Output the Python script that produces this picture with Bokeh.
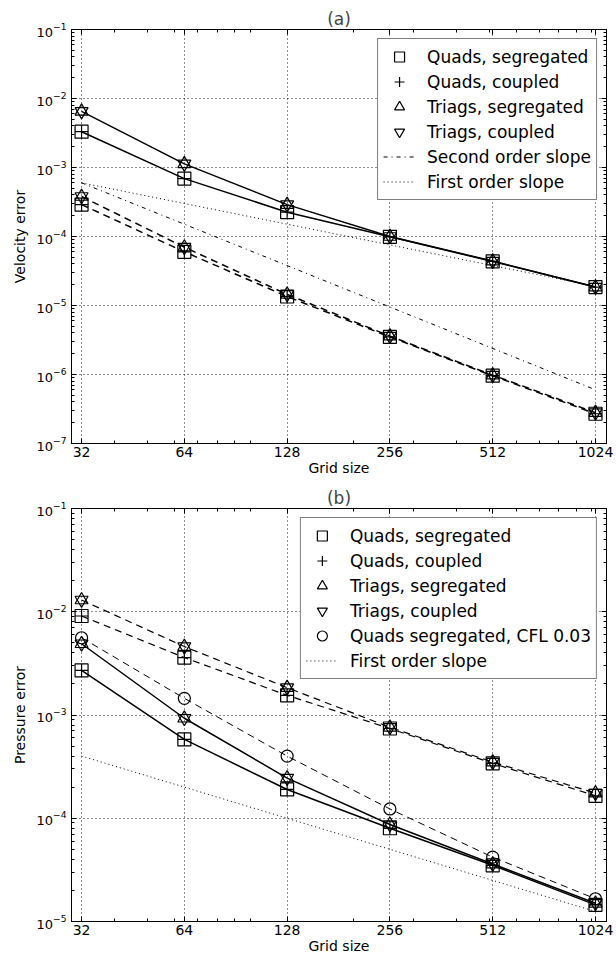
from bokeh.plotting import figure
from bokeh.layouts import column
from bokeh.models import (FixedTicker, LogAxis, LogTickFormatter, PrintfTickFormatter,
                          CustomJSTickFormatter, Legend, LegendItem, Range1d)
from bokeh.embed import file_html
from bokeh.resources import INLINE

# ---------------- data ----------------
grid_sizes = [32, 64, 128, 256, 512, 1024]
x_minor = [40, 50, 60, 70, 80, 90, 100, 200, 300, 400, 500, 600, 700, 800, 900, 1000]

# (a) velocity error
vel_quads_upper = [3.3e-3, 6.9e-4, 2.25e-4, 9.9e-5, 4.35e-5, 1.85e-5]
vel_triags_upper = [6.5e-3, 1.13e-3, 2.9e-4, 1.0e-4, 4.4e-5, 1.85e-5]
vel_quads_lower = [2.9e-4, 6.0e-5, 1.35e-5, 3.5e-6, 9.6e-7, 2.7e-7]
vel_triags_lower = [3.8e-4, 7.0e-5, 1.45e-5, 3.6e-6, 9.8e-7, 2.8e-7]
slope_x = [32, 1024]
vel_second_order = [6.0e-4, 6.0e-7]
vel_first_order = [6.0e-4, 1.9e-5]

# (b) pressure error
pre_triags_upper = [1.3e-2, 4.6e-3, 1.84e-3, 7.6e-4, 3.5e-4, 1.75e-4]
pre_quads_upper = [9.1e-3, 3.6e-3, 1.55e-3, 7.4e-4, 3.4e-4, 1.65e-4]
pre_triags_lower = [4.9e-3, 9.3e-4, 2.45e-4, 8.7e-5, 3.6e-5, 1.5e-5]
pre_quads_lower = [2.7e-3, 5.8e-4, 1.9e-4, 8.0e-5, 3.5e-5, 1.45e-5]
pre_quads_cfl = [5.6e-3, 1.45e-3, 4.0e-4, 1.23e-4, 4.2e-5, 1.66e-5]
pre_first_order = [4.0e-4, 1.25e-5]

FONT = "DejaVu Sans"


def decades(lo, hi):
    return [10.0 ** e for e in range(lo, hi + 1)]


def minors(lo, hi):
    return [k * 10.0 ** e for e in range(lo, hi) for k in range(2, 10)]


def make_fig(title, ylabel, ylo, yhi, height, left, top_border):
    p = figure(width=616, height=height, x_axis_type="log", y_axis_type="log",
               x_range=Range1d(29.9, 1103), y_range=Range1d(10.0 ** ylo, 10.0 ** yhi),
               output_backend="svg", toolbar_location=None,
               min_border_left=left, min_border_right=10, min_border_top=top_border,
               min_border_bottom=30)
    p.title.text = title
    p.title.align = "center"
    p.title.text_font = FONT
    p.title.text_font_size = "17px"
    p.title.text_font_style = "normal"
    p.title.standoff = 2
    xt = FixedTicker(ticks=grid_sizes, minor_ticks=x_minor)
    yt = FixedTicker(ticks=decades(ylo, yhi), minor_ticks=minors(ylo, yhi))
    p.xaxis.ticker = xt
    p.xaxis.formatter = PrintfTickFormatter(format="%d")
    p.yaxis.ticker = yt
    p.yaxis.formatter = LogTickFormatter()
    p.xaxis.axis_label = "Grid size"
    p.yaxis.axis_label = ylabel
    for ax in (p.xaxis, p.yaxis):
        ax.axis_label_text_font = FONT
        ax.axis_label_text_font_size = "14px"
        ax.axis_label_text_font_style = "normal"
        ax.major_label_text_font = FONT
        ax.major_tick_in = 5
        ax.major_tick_out = 0
        ax.minor_tick_in = 3
        ax.minor_tick_out = 0
        ax.axis_line_color = "black"
        ax.major_tick_line_color = "black"
        ax.minor_tick_line_color = "black"
        ax.major_label_text_color = "black"
        ax.axis_label_text_color = "black"
    p.xaxis.axis_label_standoff = 0
    p.xaxis.major_label_standoff = 3
    p.yaxis.axis_label_standoff = 6
    p.yaxis.major_label_standoff = 5
    p.xaxis.major_label_text_font_size = "14px"
    p.yaxis.major_label_text_font_size = "13px"
    # top & right tick-only axes
    blank = CustomJSTickFormatter(code="return ''")
    top = LogAxis(ticker=xt, formatter=blank, major_tick_in=5, major_tick_out=0,
                  minor_tick_in=3, minor_tick_out=0, major_label_standoff=0)
    right = LogAxis(ticker=yt, formatter=blank, major_tick_in=5, major_tick_out=0,
                    minor_tick_in=3, minor_tick_out=0, major_label_standoff=0)
    p.add_layout(top, "above")
    p.add_layout(right, "right")
    p.grid.grid_line_color = "black"
    p.grid.grid_line_dash = "1 3"
    p.grid.grid_line_alpha = 0.9
    p.outline_line_color = "black"
    p.outline_line_alpha = 1
    return p


def markers(p, y, kinds):
    rs = []
    for k in kinds:
        rs.append(p.scatter(grid_sizes, y, marker=k, size=13 if k != "circle" else 12,
                            fill_color=None, line_color="black", line_width=1.2))
    return rs


def style_legend(p, items):
    leg = Legend(items=items, location="top_right")
    leg.label_text_font = FONT
    leg.label_text_font_size = "17px"
    leg.label_text_color = "black"
    leg.border_line_color = "black"
    leg.border_line_width = 1
    leg.background_fill_color = "white"
    leg.background_fill_alpha = 1
    leg.glyph_width = 32
    leg.glyph_height = 25
    leg.label_height = 25
    leg.spacing = 0
    leg.padding = 5
    leg.margin = 9
    leg.label_standoff = 12
    p.add_layout(leg)


# ---------------- (a) ----------------
p1 = make_fig("(a)", "Velocity error", -7, -1, 478, 71, 29)
p1.line(grid_sizes, vel_quads_upper, line_color="black", line_width=1.5)
p1.line(grid_sizes, vel_triags_upper, line_color="black", line_width=1.5)
p1.line(grid_sizes, vel_quads_lower, line_color="black", line_width=1.5, line_dash="7 5")
p1.line(grid_sizes, vel_triags_lower, line_color="black", line_width=1.5, line_dash="7 5")
r_so = p1.line(slope_x, vel_second_order, line_color="black", line_width=1, line_dash="4 4 1 4")
r_fo = p1.line(slope_x, vel_first_order, line_color="black", line_width=1, line_dash="1 3")
qs = markers(p1, vel_quads_upper, ["square", "cross"])
markers(p1, vel_quads_lower, ["square", "cross"])
ts = markers(p1, vel_triags_upper, ["triangle", "inverted_triangle"])
markers(p1, vel_triags_lower, ["triangle", "inverted_triangle"])
style_legend(p1, [
    LegendItem(label="Quads, segregated", renderers=[qs[0]]),
    LegendItem(label="Quads, coupled", renderers=[qs[1]]),
    LegendItem(label="Triags, segregated", renderers=[ts[0]]),
    LegendItem(label="Triags, coupled", renderers=[ts[1]]),
    LegendItem(label="Second order slope", renderers=[r_so]),
    LegendItem(label="First order slope", renderers=[r_fo]),
])

# ---------------- (b) ----------------
p2 = make_fig("(b)", "Pressure error", -5, -1, 478, 68, 30)
p2.line(grid_sizes, pre_triags_upper, line_color="black", line_width=1.2, line_dash="7 5")
p2.line(grid_sizes, pre_quads_upper, line_color="black", line_width=1.2, line_dash="7 5")
p2.line(grid_sizes, pre_triags_lower, line_color="black", line_width=1.5)
p2.line(grid_sizes, pre_quads_lower, line_color="black", line_width=1.5)
p2.line(grid_sizes, pre_quads_cfl, line_color="black", line_width=1, line_dash="7 5")
r_fo2 = p2.line(slope_x, pre_first_order, line_color="black", line_width=1, line_dash="1 3")
qs2 = markers(p2, pre_quads_upper, ["square", "cross"])
markers(p2, pre_quads_lower, ["square", "cross"])
ts2 = markers(p2, pre_triags_upper, ["triangle", "inverted_triangle"])
markers(p2, pre_triags_lower, ["triangle", "inverted_triangle"])
cs2 = markers(p2, pre_quads_cfl, ["circle"])
style_legend(p2, [
    LegendItem(label="Quads, segregated", renderers=[qs2[0]]),
    LegendItem(label="Quads, coupled", renderers=[qs2[1]]),
    LegendItem(label="Triags, segregated", renderers=[ts2[0]]),
    LegendItem(label="Triags, coupled", renderers=[ts2[1]]),
    LegendItem(label="Quads segregated, CFL 0.03", renderers=[cs2[0]]),
    LegendItem(label="First order slope", renderers=[r_fo2]),
])

layout = column(p1, p2, spacing=0)
open("out.html", "w").write(file_html(layout, INLINE))
